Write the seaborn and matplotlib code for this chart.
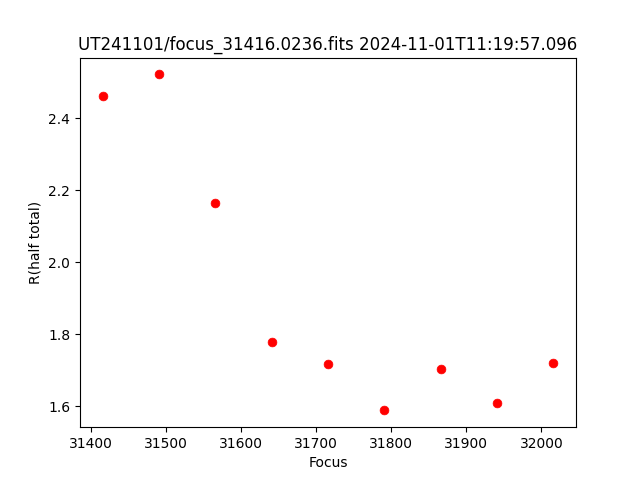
import matplotlib
matplotlib.use("Agg")
import matplotlib.pyplot as plt
import seaborn as sns
import pandas as pd

focus = [31416, 31491, 31566, 31641, 31716, 31791, 31866, 31941, 32016]
r_half = [2.460, 2.521, 2.163, 1.778, 1.717, 1.589, 1.703, 1.609, 1.720]
title = "UT241101/focus_31416.0236.fits 2024-11-01T11:19:57.096"

df = pd.DataFrame({"Focus": focus, "R": r_half})

fig, ax = plt.subplots(figsize=(6.4, 4.8), dpi=100)
sns.scatterplot(data=df, x="Focus", y="R", color="red", s=40, edgecolor="red", linewidth=0.5, ax=ax)
ax.set_xlabel("Focus")
ax.set_ylabel("R(half total)")
ax.set_title(title)
fig.savefig("out.png", dpi=100)
